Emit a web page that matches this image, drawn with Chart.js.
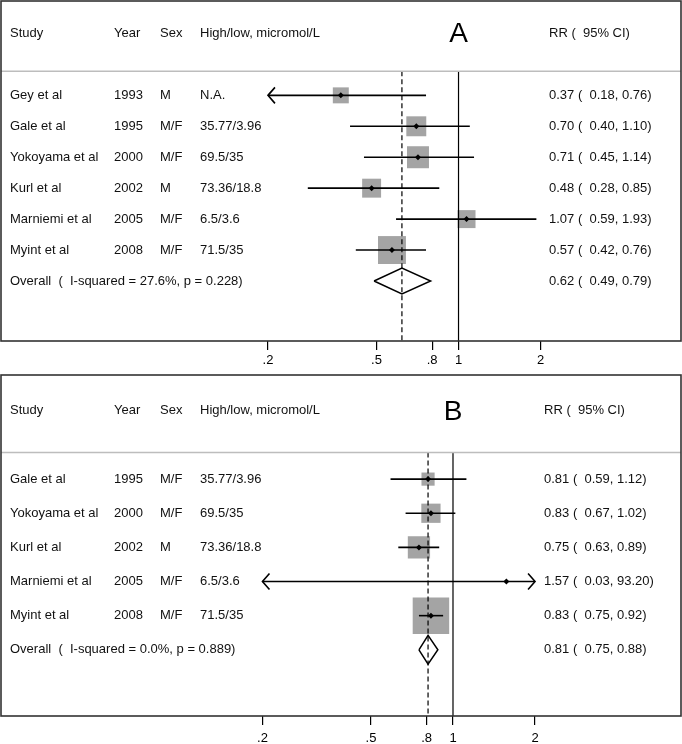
<!DOCTYPE html>
<html>
<head>
<meta charset="utf-8">
<script src="https://cdn.jsdelivr.net/npm/chart.js@4.4.0/dist/chart.umd.min.js"></script>
<style>
  html, body { margin: 0; padding: 0; background: #fff; }
  canvas { display: block; }
</style>
</head>
<body>
<canvas id="chartA" width="682" height="372"></canvas>
<canvas id="chartB" width="682" height="372"></canvas>
<script>
// ---- panel A ----
var studiesA = ['Gey et al', 'Gale et al', 'Yokoyama et al', 'Kurl et al', 'Marniemi et al', 'Myint et al'];
var yearsA = ['1993', '1995', '2000', '2002', '2005', '2008'];
var sexA = ['M', 'M/F', 'M/F', 'M', 'M/F', 'M/F'];
var levelsA = ['N.A.', '35.77/3.96', '69.5/35', '73.36/18.8', '6.5/3.6', '71.5/35'];
var rrA = [0.37, 0.70, 0.71, 0.48, 1.07, 0.57];
var lowA = [0.18, 0.40, 0.45, 0.28, 0.59, 0.42];
var highA = [0.76, 1.10, 1.14, 0.85, 1.93, 0.76];
var weightsA = [9.8, 15.3, 18.6, 13.8, 12.4, 30.0];
var overallA = [0.62, 0.49, 0.79];
var hetA = 'Overall  (  I-squared = 27.6%, p = 0.228)';

// ---- panel B ----
var studiesB = ['Gale et al', 'Yokoyama et al', 'Kurl et al', 'Marniemi et al', 'Myint et al'];
var yearsB = ['1995', '2000', '2002', '2005', '2008'];
var sexB = ['M/F', 'M/F', 'M', 'M/F', 'M/F'];
var levelsB = ['35.77/3.96', '69.5/35', '73.36/18.8', '6.5/3.6', '71.5/35'];
var rrB = [0.81, 0.83, 0.75, 1.57, 0.83];
var lowB = [0.59, 0.67, 0.63, 0.03, 0.75];
var highB = [1.12, 1.02, 0.89, 93.20, 0.92];
var weightsB = [7.3, 15.6, 20.9, 0.1, 56.1];
var overallB = [0.81, 0.75, 0.88];
var hetB = 'Overall  (  I-squared = 0.0%, p = 0.889)';

// shared axis / header text
var tickValues = [0.2, 0.5, 0.8, 1, 2];
var tickLabels = ['.2', '.5', '.8', '1', '2'];
var headers = ['Study', 'Year', 'Sex', 'High/low, micromol/L', 'RR (  95% CI)'];

Chart.defaults.font.family = '"Liberation Sans", Arial, sans-serif';
Chart.defaults.font.size = 13;
Chart.defaults.color = '#000';

function ciText(est, lo, hi) {
  return est.toFixed(2) + ' ( ' + lo.toFixed(2).padStart(5) + ', ' + hi.toFixed(2) + ')';
}

function forest(id, d, opt) {
  var n = d.studies.length;
  var clipMin = tickValues[0], clipMax = tickValues[tickValues.length - 1];
  var sepRow = -0.78, headRow = -2, yMin = -3.05, yMax = n + 1.94;
  var est = d.overall[0], olo = d.overall[1], ohi = d.overall[2];
  var pts = d.rr.map(function (v, i) { return { x: v, y: i }; });

  var ds = [];
  // centre markers
  ds.push({ data: pts, pointStyle: 'rectRot', pointRadius: 3, pointBackgroundColor: '#000', pointBorderWidth: 0, order: 0 });
  // pooled diamond
  ds.push({
    data: [{ x: olo, y: n }, { x: est, y: n - 0.42 }, { x: ohi, y: n }, { x: est, y: n + 0.42 }, { x: olo, y: n }],
    showLine: true, borderColor: '#000', borderWidth: 1.5, pointRadius: 0, fill: false, order: 1
  });
  // confidence intervals
  d.studies.forEach(function (s, i) {
    ds.push({
      data: [{ x: Math.max(d.low[i], clipMin), y: i }, { x: Math.min(d.high[i], clipMax), y: i }],
      showLine: true, borderColor: '#000', borderWidth: 1.6, pointRadius: 0, order: 2
    });
  });
  // no-effect line and pooled line
  ds.push({ data: [{ x: 1, y: sepRow }, { x: 1, y: yMax }], showLine: true, borderColor: '#000', borderWidth: 1.2, pointRadius: 0, order: 3 });
  ds.push({ data: [{ x: est, y: sepRow }, { x: est, y: yMax }], showLine: true, borderColor: '#000', borderWidth: 1.2, borderDash: [5, 3], pointRadius: 0, order: 3 });
  // weight boxes
  ds.push({
    data: pts, pointStyle: 'rect',
    pointRadius: d.weights.map(function (w) { return opt.boxScale * Math.sqrt(w) / Math.SQRT2; }),
    pointBackgroundColor: '#a4a4a4', pointBorderWidth: 0, order: 4
  });

  var textPlugin = {
    id: 'forestText',
    afterDraw: function (chart) {
      var ctx = chart.ctx, a = chart.chartArea;
      var xs = chart.scales.x, ys = chart.scales.y;
      var cols = [10, 114, 160, 200];
      ctx.save();
      // separator under header
      var sy = ys.getPixelForValue(sepRow);
      ctx.strokeStyle = '#bdbdbd';
      ctx.lineWidth = 1.5;
      ctx.beginPath(); ctx.moveTo(a.left, sy); ctx.lineTo(a.right, sy); ctx.stroke();
      // arrows for clipped intervals
      ctx.strokeStyle = '#000';
      ctx.lineWidth = 1.6;
      d.studies.forEach(function (s, i) {
        var py = ys.getPixelForValue(i);
        if (d.low[i] < clipMin) {
          var px = xs.getPixelForValue(clipMin);
          ctx.beginPath(); ctx.moveTo(px + 7, py - 8); ctx.lineTo(px, py); ctx.lineTo(px + 7, py + 8); ctx.stroke();
        }
        if (d.high[i] > clipMax) {
          var qx = xs.getPixelForValue(clipMax);
          ctx.beginPath(); ctx.moveTo(qx - 7, py - 8); ctx.lineTo(qx, py); ctx.lineTo(qx - 7, py + 8); ctx.stroke();
        }
      });
      // text columns
      ctx.fillStyle = '#111';
      ctx.font = '13px "Liberation Sans", Arial, sans-serif';
      ctx.textBaseline = 'middle';
      ctx.textAlign = 'left';
      var hy = ys.getPixelForValue(headRow);
      for (var c = 0; c < 4; c++) ctx.fillText(headers[c], cols[c], hy);
      ctx.fillText(headers[4], opt.rrX, hy);
      d.studies.forEach(function (s, i) {
        var py = ys.getPixelForValue(i);
        ctx.fillText(s, cols[0], py);
        ctx.fillText(d.years[i], cols[1], py);
        ctx.fillText(d.sex[i], cols[2], py);
        ctx.fillText(d.levels[i], cols[3], py);
        ctx.fillText(ciText(d.rr[i], d.low[i], d.high[i]), opt.rrX, py);
      });
      var oy = ys.getPixelForValue(n);
      ctx.fillText(d.het, cols[0], oy);
      ctx.fillText(ciText(est, olo, ohi), opt.rrX, oy);
      // panel letter
      ctx.font = '28px "Liberation Sans", Arial, sans-serif';
      ctx.textAlign = 'center';
      ctx.fillStyle = '#000';
      ctx.fillText(opt.letter, xs.getPixelForValue(1), hy + 1);
      // plot frame
      ctx.strokeStyle = '#333';
      ctx.lineWidth = 1.6;
      ctx.strokeRect(a.left, a.top, a.right - a.left, a.bottom - a.top);
      ctx.restore();
    }
  };

  return new Chart(document.getElementById(id), {
    type: 'scatter',
    data: { datasets: ds },
    options: {
      responsive: false,
      animation: false,
      events: [],
      layout: { autoPadding: false, padding: { top: opt.padTop, left: 1, right: 1, bottom: 0 } },
      plugins: { legend: { display: false }, tooltip: { enabled: false } },
      scales: {
        x: {
          type: 'logarithmic',
          min: opt.xMin,
          max: opt.xMax,
          bounds: 'data',
          afterBuildTicks: function (s) { s.ticks = tickValues.map(function (v) { return { value: v }; }); },
          afterFit: function (s) { s.height = opt.axisH; },
          ticks: {
            autoSkip: false, maxRotation: 0, padding: opt.tickPad, color: '#000',
            callback: function (v, i) { return tickLabels[i]; }
          },
          grid: { drawOnChartArea: false, drawTicks: true, tickLength: 9, color: '#000', lineWidth: 1.2 },
          border: { display: false }
        },
        y: { type: 'linear', display: false, reverse: true, min: yMin, max: yMax }
      }
    },
    plugins: [textPlugin]
  });
}

forest('chartA', {
  studies: studiesA, years: yearsA, sex: sexA, levels: levelsA,
  rr: rrA, low: lowA, high: highA, weights: weightsA, overall: overallA, het: hetA
}, { letter: 'A', xMin: 0.02098, xMax: 6.547, padTop: 1, axisH: 31, tickPad: 3, rrX: 549, boxScale: 5.1 });

forest('chartB', {
  studies: studiesB, years: yearsB, sex: sexB, levels: levelsB,
  rr: rrB, low: lowB, high: highB, weights: weightsB, overall: overallB, het: hetB
}, { letter: 'B', xMin: 0.02197, xMax: 6.862, padTop: 3, axisH: 28, tickPad: 6, rrX: 544, boxScale: 4.87 });
</script>
</body>
</html>
